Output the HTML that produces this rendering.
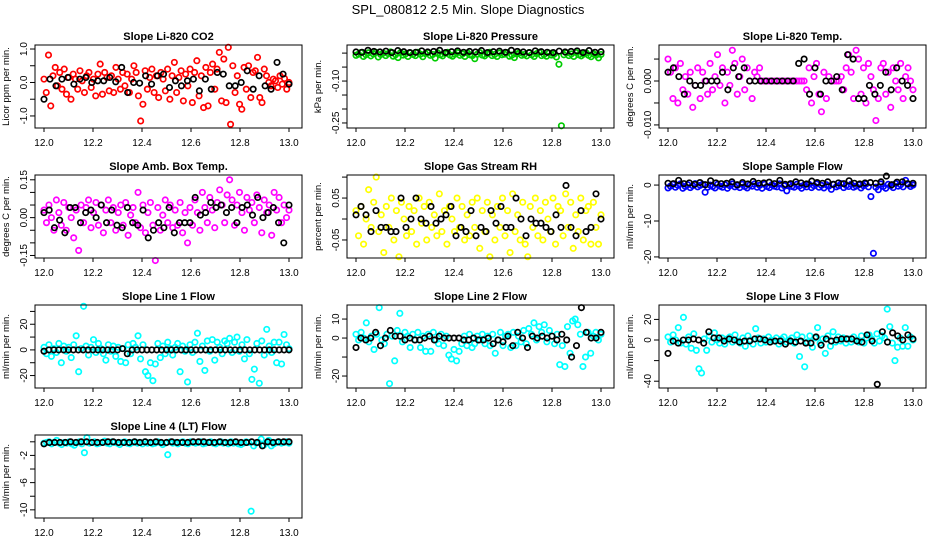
<!DOCTYPE html>
<html><head><meta charset="utf-8"><style>
body{margin:0;background:#fff}
svg{display:block;font-family:"Liberation Sans",sans-serif}
</style></head><body>
<svg id="c" width="936" height="540">
<text x="468" y="14" text-anchor="middle" font-size="13">SPL_080812  2.5 Min. Slope Diagnostics</text>
</svg>
<script>
const xTicks=[12.0,12.2,12.4,12.6,12.8,13.0];
const co2C=[0.1,-0.3,0.82,-0.7,0.2,0.45,-0.1,0.3,-0.2,0.4,-0.35,0.15,-0.5,0.25,0.1,-0.2,0.35,0.05,-0.3,0.2,0.3,-0.15,0.1,-0.4,0.25,0.55,-0.35,0.3,0.15,-0.25,0.2,-0.3,0.45,0.1,-0.2,0.3,-0.1,0.25,-0.3,0.1,0.5,0.3,-0.4,-1.15,-0.65,0.35,-0.2,0.15,0.4,-0.3,0.2,-0.45,0.3,0.1,-0.25,0.4,-0.5,0.2,0.6,-0.3,0.15,0.35,-0.55,0.25,-0.1,0.4,-0.6,0.3,0.65,-0.4,0.2,-0.75,0.45,-0.7,0.3,0.55,-0.2,0.4,0.9,-0.55,0.7,-0.6,1.05,-1.25,0.5,-0.3,0.2,-0.65,-0.8,0.45,-0.2,0.5,-0.45,0.3,0.35,0.75,-0.45,-0.6,0.4,0.2,0.0,-0.1,0.1,0.05,-0.15,0.2,-0.05,0.12,-0.2,0.0];
const co2K=[-0.5,0.1,-0.1,0.1,0.15,-0.05,0.1,0.15,0.0,0.05,0.05,0.15,0.02,0.45,-0.3,0.0,-0.02,0.2,-0.05,0.2,0.25,-0.15,0.05,-0.1,0.05,0.1,-0.25,0.1,-0.2,0.3,0.25,-0.1,-0.1,0.0,0.35,-0.2,0.2,-0.1,-0.2,0.6,0.25,-0.05];
const presC=[-0.008,-0.004,0.002,-0.012,-0.006,0.001,-0.01,-0.003,0.003,-0.014,-0.005,0.0,-0.009,-0.002,0.004,-0.011,-0.006,-0.016,0.002,-0.007,-0.003,-0.012,0.001,-0.005,-0.009,0.003,-0.004,-0.013,-0.002,0.002,-0.008,-0.005,-0.018,0.001,-0.006,-0.01,-0.002,0.003,-0.007,-0.011,-0.004,0.002,-0.008,-0.003,-0.012,0.001,-0.006,-0.009,-0.02,-0.004,0.002,-0.007,-0.01,-0.003,0.003,-0.009,-0.005,-0.012,0.0,-0.006,-0.004,0.002,-0.011,-0.007,-0.016,-0.003,0.001,-0.008,-0.005,-0.01,0.002,-0.006,-0.012,-0.002,0.003,-0.009,-0.005,-0.011,0.0,-0.007,-0.004,-0.014,-0.04,-0.26,-0.006,0.001,-0.009,-0.003,-0.012,0.002,-0.006,-0.01,-0.004,0.001,-0.008,-0.013,-0.003,-0.007,-0.017,-0.005];
const presK=[0.004,0.003,0.01,0.006,0.004,0.007,0.002,0.009,0.005,0.002,0.003,0.008,0.004,0.006,0.01,0.002,0.005,0.008,0.003,0.006,0.004,0.009,0.002,0.005,0.007,0.003,0.01,0.006,0.004,0.002,0.008,0.005,0.003,0.002,0.007,0.004,0.006,0.008,0.002,0.009,0.003,0.005];
const tmpC=[0.005,0.002,-0.004,0.003,-0.005,0.004,-0.002,0.001,-0.003,0.002,-0.006,-0.001,0.003,-0.004,0.002,0.0,-0.003,0.004,-0.002,0.001,0.006,-0.001,0.003,-0.005,0.002,-0.001,0.007,0.004,-0.003,0.001,0.005,-0.002,0.003,0.0,-0.004,0.002,0.001,0.003,0.0,0.0,0.0,0.0,0.0,0.0,0.0,0.0,0.0,0.0,0.0,0.0,0.0,0.0,0.0,0.0,0.0,0.0,-0.002,0.003,-0.005,0.001,0.004,-0.003,-0.007,0.002,-0.004,0.001,0.0,0.0,0.0,0.0,0.001,-0.002,0.003,0.006,0.002,-0.004,0.007,0.005,-0.003,0.003,-0.005,0.004,0.001,-0.002,-0.009,-0.004,0.003,0.004,-0.003,0.002,-0.006,0.003,0.0,-0.002,0.004,-0.004,0.001,0.003,0.0,-0.002];
const tmpK=[0.002,0.003,0.001,-0.003,0.0,-0.001,-0.001,0.0,0.0,0.0,0.002,-0.002,0.003,0.001,0.003,0.0,0.0,0.0,0.0,0.0,0.0,0.0,0.0,0.0,0.004,0.005,-0.003,0.003,-0.003,0.0,0.0,0.001,-0.002,0.006,0.005,-0.004,-0.004,-0.001,-0.003,-0.001,0.002,-0.002,0.003,0.0,-0.001,-0.004];
const ambC=[0.03,-0.02,0.05,0.0,-0.05,0.07,0.02,-0.03,0.06,-0.05,0.04,0.0,-0.08,0.03,-0.13,0.05,-0.02,0.04,0.07,-0.04,0.02,0.06,-0.03,0.05,-0.06,0.03,0.07,-0.02,0.04,-0.05,0.02,0.05,-0.03,0.06,-0.07,0.01,0.04,-0.02,0.1,-0.04,0.05,-0.06,0.02,0.06,-0.03,-0.17,0.04,-0.05,0.01,0.07,-0.02,0.05,-0.04,0.03,-0.03,0.06,-0.06,0.02,-0.1,0.04,-0.03,0.07,0.02,-0.05,0.1,0.04,-0.02,0.08,0.03,-0.04,0.06,0.11,0.05,-0.02,0.09,0.15,0.07,-0.03,0.05,0.1,0.02,-0.05,0.08,0.03,0.06,-0.02,0.09,0.04,-0.06,0.07,0.02,0.05,-0.07,0.1,0.03,0.08,-0.02,0.05,0.0,0.03];
const ambK=[0.02,0.03,-0.04,-0.01,-0.06,0.04,0.04,-0.02,0.02,0.03,0.0,0.05,-0.02,0.03,-0.03,-0.04,0.04,-0.02,-0.03,0.03,-0.08,-0.05,-0.02,-0.04,0.04,-0.06,-0.02,-0.02,-0.02,0.08,0.01,0.02,0.06,0.04,0.05,0.02,0.04,-0.02,0.04,0.05,0.01,0.08,0.0,0.02,0.04,-0.02,-0.1,0.05];
const rhC=[0.02,-0.04,0.03,-0.06,0.0,0.07,-0.02,0.04,0.1,-0.03,0.01,-0.08,0.03,-0.02,0.05,-0.05,0.02,-0.09,0.04,0.0,-0.04,0.03,-0.03,0.02,-0.06,0.05,-0.01,0.03,-0.05,0.04,-0.02,0.01,-0.04,0.06,-0.03,0.02,-0.06,0.03,0.0,-0.03,0.05,-0.02,0.03,-0.05,0.01,-0.04,0.04,-0.02,0.05,-0.07,0.02,-0.03,0.04,-0.09,0.01,-0.05,0.03,-0.02,0.05,-0.04,0.02,-0.08,0.06,-0.03,0.01,-0.05,0.04,-0.06,-0.09,0.03,-0.02,0.05,-0.04,0.02,-0.05,0.04,0.0,-0.03,0.05,-0.06,0.03,0.02,-0.04,0.06,-0.02,0.04,-0.07,0.01,-0.03,0.05,-0.05,0.02,0.03,-0.06,0.04,-0.02,-0.06,0.01];
const rhK=[0.01,0.03,0.01,-0.03,0.02,-0.02,-0.02,-0.03,-0.03,0.05,-0.02,0.0,0.05,0.0,-0.01,0.03,-0.01,0.0,0.01,0.03,-0.04,-0.02,-0.03,0.02,-0.04,-0.02,-0.03,0.02,-0.01,0.03,-0.02,-0.02,0.05,0.0,-0.04,0.0,-0.01,-0.01,-0.02,-0.03,0.01,-0.02,0.08,-0.02,-0.04,0.02,-0.03,-0.02,0.06,0.0];
const sfC=[-0.8,-0.3,0.2,-0.6,-0.1,0.3,-0.9,-0.4,0.1,-0.7,-0.2,0.4,-0.5,-0.1,0.2,-2.0,-0.6,0.0,-0.4,-0.8,0.2,-0.3,-0.6,0.1,-0.9,-0.2,0.3,-0.5,-0.1,-0.7,0.2,-0.4,-0.8,0.0,-0.3,0.3,-0.6,-0.1,-0.9,0.2,-0.4,-0.7,0.1,-0.3,-0.5,0.3,-0.8,-0.2,-1.6,0.1,-0.4,-0.6,0.2,-0.3,-0.9,0.0,-0.5,0.2,-0.7,-0.2,0.3,-0.6,-0.1,-0.8,0.1,-0.3,-1.2,0.2,-0.5,-0.2,0.4,-0.7,-0.1,-0.4,0.2,-0.6,-0.3,0.1,-0.8,-0.2,0.3,-0.5,-3.2,-19.0,-0.6,-1.3,0.3,-0.4,-0.9,0.2,-0.2,-0.7,0.4,-0.3,0.1,-0.5,1.3,0.2,-0.4,0.0];
const sfK=[0.5,0.4,1.3,0.4,0.6,0.2,0.7,0.1,1.2,0.6,0.4,0.5,0.9,0.1,0.7,0.3,1.0,0.5,0.6,0.8,0.4,1.3,0.2,0.4,0.9,0.6,0.3,1.1,0.7,0.5,0.9,0.2,0.6,0.4,1.2,0.5,0.3,0.6,0.7,0.5,0.9,2.5,0.1,0.8,0.9,0.4,0.5];
const l1C=[2,-3,4,-5,1,-2,5,-10,3,-1,2,-6,4,11,-17,1,34,3,-4,2,8,-2,5,1,-3,-8,4,-1,3,-5,2,-9,1,-10,4,-3,5,2,11,-7,4,-17,-20,-10,-24,-11,5,-6,3,-3,6,1,-4,2,5,-17,3,-1,-25,4,-2,6,13,-9,3,-16,7,-1,8,-8,6,2,-3,7,5,9,-2,6,10,-1,4,-7,8,-3,-23,-15,5,-26,7,-4,16,3,-2,6,-10,6,-11,12,4,1];
const l1K=[-1,0,0,0,0,0,0,0,0,0,0,0,0,0,0,0,1,-3,0,0,0,0,0,0,0,0,0,0,0,0,0,0,0,0,0,0,0,0,0,0,0,0,0,0,0,0,0,0,0,0,0];
const l2C=[2,-1,3,0,8,-2,1,-6,2,16,-1,-3,2,-24,1,-12,4,13,-2,3,1,-5,2,-1,3,-5,1,-7,2,-7,3,-1,-3,2,-4,1,-9,-11,-6,-12,-7,-3,1,-4,2,-5,-3,1,-1,2,-3,1,-4,2,-8,-1,3,-4,1,2,-5,3,-4,1,-2,4,-3,5,2,8,-1,6,3,7,-2,4,1,-3,2,-14,-4,-15,6,-8,9,10,7,2,-15,-10,3,-8,1,3,-1,2];
const l2K=[-5,0,-1,0,3,-4,0,4,1,1,-1,0,-1,-1,0,1,-1,1,0,0,0,0,-1,-1,0,-1,-1,0,-3,-1,-2,1,-4,3,0,-5,1,0,1,0,1,-1,2,-1,-10,-4,16,3,0,0,3];
const l3C=[3,-2,5,0,12,-3,22,-4,3,-8,6,-10,-28,-32,1,-10,4,-2,7,0,-3,2,-4,1,3,-2,5,-1,-3,2,-6,4,0,-4,11,2,-3,1,-2,3,0,-1,2,-4,1,3,-2,0,2,-3,5,-16,3,-26,-2,4,-7,2,12,-3,1,-13,4,-6,8,-2,3,-1,2,-3,1,-2,3,0,-2,4,-3,2,5,1,-3,6,-1,4,2,30,13,-3,-20,-7,2,-6,12,-6,3,0];
const l3K=[-13,-1,-3,0,0,1,0,-3,8,2,2,-1,1,0,-2,-1,-1,1,1,0,-2,-1,-1,-4,-1,-2,-1,-3,-3,3,-5,1,-1,0,1,1,1,-1,-2,5,-1,-43,8,-2,7,4,0,5,1];
const l4C=[-0.2,-0.1,0.0,-0.3,-0.1,0.2,-0.2,-0.4,-0.1,-0.2,0.0,-0.3,-0.5,-0.1,0.0,-0.3,-1.6,0.6,-0.2,-0.1,0.0,-0.3,-0.2,-0.1,0.1,-0.2,-0.3,0.0,-0.1,-0.2,-0.4,-0.1,0.0,-0.2,-0.3,-0.1,0.0,-0.2,-0.1,-0.3,0.0,-0.2,-0.1,-0.3,-0.2,0.0,-0.1,-0.4,-0.2,-1.9,0.0,-0.2,-0.1,-0.3,-0.1,0.0,-0.2,-0.3,0.0,-0.1,-0.2,-0.1,0.0,-0.3,-0.2,-0.1,0.0,-0.2,-0.3,-0.1,0.0,-0.2,-0.1,-0.3,0.0,-0.2,-0.1,-0.3,-0.4,-0.2,0.0,-0.1,-10.2,-0.6,-0.2,-0.1,0.4,-0.5,-0.2,0.2,-0.6,-0.3,-0.1,0.0,-0.2,-0.1,0.0,-0.2];
const l4K=[-0.3,-0.1,-0.1,-0.1,-0.1,0.0,-0.1,0.0,0.0,-0.1,-0.1,-0.1,0.0,0.0,-0.1,-0.1,-0.1,0.0,-0.1,0.0,-0.1,0.0,-0.1,-0.1,0.0,-0.1,-0.1,-0.1,0.0,0.0,0.0,-0.1,-0.1,0.0,-0.1,-0.1,0.0,-0.1,-0.1,0.0,-0.1,-0.6,0.0,-0.1,0.0,0.0,0.0];

const svg=document.getElementById('c');
const NS='http://www.w3.org/2000/svg';
function mk(t,a,parent){const e=document.createElementNS(NS,t);for(const k in a)e.setAttribute(k,a[k]);(parent||svg).appendChild(e);return e;}

function panel(o){
  const L=35+312*o.col, T=45+130*o.row, W=267, H=83, B=T+H;
  const g=mk('g',{});
  
  
  const xs=v=>L+9+(v-12)*245;
  const ys=v=>B-(v-o.lo)/(o.hi-o.lo)*H;
  const ti=mk('text',{x:L+W/2,y:T-5,'text-anchor':'middle','font-size':11,'font-weight':'bold'},g);
  ti.textContent=o.title;
  
  
  const yl=mk('text',{x:0,y:0,'text-anchor':'middle','font-size':9.5,transform:`translate(${L-26},${T+H/2}) rotate(-90)`},g);
  yl.textContent=o.ylab;
  
  
  const pts=mk('g',{fill:'none','stroke-width':1.7},g);
  
  
  [[o.c,o.color],[o.k,'#000']].forEach(([arr,col])=>{
    arr.forEach((v,i)=>{
      const c=mk('circle',{cx:xs(12+i/(arr.length-1)),cy:ys(v),r:2.7,stroke:col},pts);
      
      
    });
  });
  const box=mk('rect',{x:L,y:T,width:W,height:H,fill:'none',stroke:'#000','stroke-width':1},g);
  
  
  const xa=mk('g',{stroke:'#000','stroke-width':1},g);
  
  
  xTicks.forEach(t=>{
    mk('line',{x1:xs(t),x2:xs(t),y1:B,y2:B+4},xa);
    const tx=mk('text',{x:xs(t),y:B+18,'text-anchor':'middle','font-size':10,stroke:'none'},xa);
    tx.textContent=t.toFixed(1);
    
    
  });
  const ya=mk('g',{stroke:'#000','stroke-width':1},g);
  
  
  o.ticks.forEach((t,i)=>{
    mk('line',{x1:L-5,x2:L,y1:ys(t),y2:ys(t)},ya);
    if(o.labels[i]){
      const tx=mk('text',{x:0,y:0,'text-anchor':'middle','font-size':10,stroke:'none',transform:`translate(${L-8},${ys(t)}) rotate(-90)`},ya);
      tx.textContent=o.labels[i];
      
      
    }
  });
}

panel({name:'panel-co2',row:0,col:0,title:'Slope Li-820 CO2',ylab:'Licor ppm per min.',lo:-1.36,hi:1.12,ticks:[-1,-0.5,0,0.5,1],labels:['-1.0','','0.0','','1.0'],c:co2C,k:co2K,color:'#ff0000'});
panel({name:'panel-pressure',row:0,col:1,title:'Slope Li-820 Pressure',ylab:'kPa per min.',lo:-0.268,hi:0.029,ticks:[0,-0.05,-0.1,-0.15,-0.2,-0.25],labels:['','','-0.10','','','-0.25'],c:presC,k:presK,color:'#00cc00'});
panel({name:'panel-temp',row:0,col:2,title:'Slope Li-820 Temp.',ylab:'degrees C per min.',lo:-0.0107,hi:0.0082,ticks:[0.005,0,-0.005,-0.01],labels:['','0.000','','-0.010'],c:tmpC,k:tmpK,color:'#ff00ff'});
panel({name:'panel-amb-temp',row:1,col:0,title:'Slope Amb. Box Temp.',ylab:'degrees C per min.',lo:-0.16,hi:0.169,ticks:[0.15,0.1,0.05,0,-0.05,-0.1,-0.15],labels:['0.15','','','0.00','','','-0.15'],c:ambC,k:ambK,color:'#ff00ff'});
panel({name:'panel-rh',row:1,col:1,title:'Slope Gas Stream RH',ylab:'percent per min.',lo:-0.093,hi:0.105,ticks:[0.1,0.05,0,-0.05],labels:['','0.05','','-0.05'],c:rhC,k:rhK,color:'#ffff00'});
panel({name:'panel-sample-flow',row:1,col:2,title:'Slope Sample Flow',ylab:'ml/min per min.',lo:-20.3,hi:2.8,ticks:[0,-10,-20],labels:['0','-10','-20'],c:sfC,k:sfK,color:'#0000ff'});
panel({name:'panel-line1',row:2,col:0,title:'Slope Line 1 Flow',ylab:'ml/min per min.',lo:-29.7,hi:35,ticks:[30,20,10,0,-10,-20],labels:['','20','','0','','-20'],c:l1C,k:l1K,color:'#00ffff'});
panel({name:'panel-line2',row:2,col:1,title:'Slope Line 2 Flow',ylab:'ml/min per min.',lo:-26.3,hi:17.4,ticks:[10,0,-10,-20],labels:['10','0','','-20'],c:l2C,k:l2K,color:'#00ffff'});
panel({name:'panel-line3',row:2,col:2,title:'Slope Line 3 Flow',ylab:'ml/min per min.',lo:-46.6,hi:34,ticks:[20,0,-20,-40],labels:['20','0','','-40'],c:l3C,k:l3K,color:'#00ffff'});
panel({name:'panel-line4',row:3,col:0,title:'Slope Line 4 (LT) Flow',ylab:'ml/min per min.',lo:-11.2,hi:1.0,ticks:[0,-2,-4,-6,-8,-10],labels:['','-2','','-6','','-10'],c:l4C,k:l4K,color:'#00ffff'});
</script>
</body></html>
